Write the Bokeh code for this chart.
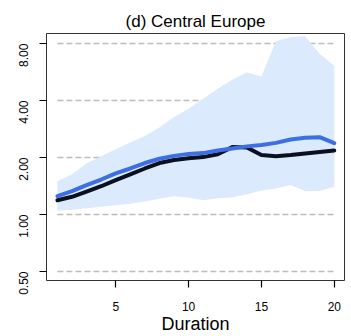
import math
from bokeh.plotting import figure
from bokeh.models import FixedTicker, PrintfTickFormatter
from bokeh.embed import file_html
from bokeh.resources import INLINE

# Durations and series (ratios, log scale)
duration = list(range(1, 21))
band_lower = [1.045, 1.06, 1.08, 1.10, 1.12, 1.14, 1.17, 1.21, 1.25, 1.23,
              1.19, 1.22, 1.23, 1.28, 1.34, 1.37, 1.43, 1.33, 1.33, 1.40]
band_upper = [1.50, 1.63, 1.86, 2.03, 2.21, 2.40, 2.60, 2.88, 3.27, 3.62,
              4.09, 4.62, 5.15, 5.62, 5.35, 8.25, 8.65, 8.75, 7.04, 6.10]
blue_series = [1.25, 1.33, 1.43, 1.53, 1.65, 1.75, 1.87, 1.97, 2.04, 2.09,
               2.11, 2.18, 2.23, 2.29, 2.33, 2.39, 2.49, 2.54, 2.56, 2.38]
black_series = [1.19, 1.24, 1.32, 1.41, 1.52, 1.63, 1.75, 1.87, 1.94, 1.98,
                2.01, 2.08, 2.27, 2.26, 2.06, 2.03, 2.06, 2.10, 2.14, 2.18]
y_ticks = [0.5, 1, 2, 4, 8]
x_ticks = [5, 10, 15, 20]

FONT = "Liberation Sans"

p = figure(width=351, height=336, y_axis_type="log",
           x_range=(0.25, 20.7), y_range=(0.448, 9.04),
           output_backend="svg", toolbar_location=None,
           title="(d) Central Europe",
           min_border_left=46, min_border_right=7,
           min_border_top=33, min_border_bottom=55)

p.title.align = "center"
p.title.text_font = FONT
p.title.text_font_size = "17px"
p.title.text_font_style = "normal"
p.title.text_color = "black"
p.title.standoff = 6

p.xgrid.visible = False
p.ygrid.visible = False
p.outline_line_color = "#333333"
p.outline_line_width = 1

# dashed reference lines spanning the duration range
p.segment(x0=[duration[0]] * len(y_ticks), x1=[duration[-1]] * len(y_ticks),
          y0=y_ticks, y1=y_ticks, line_color="#bdbdbd", line_width=1.5,
          line_dash="6 3")

p.varea(x=duration, y1=band_lower, y2=band_upper, fill_color="#dbeafc")
p.line(duration, black_series, line_color="#0b1020", line_width=4,
       line_join="round", line_cap="round")
p.line(duration, blue_series, line_color="#3d6fe3", line_width=4,
       line_join="round", line_cap="round")

for ax in (p.xaxis[0], p.yaxis[0]):
    ax.axis_line_color = None
    ax.major_tick_line_color = "black"
    ax.major_tick_line_width = 1.2
    ax.major_tick_out = 7
    ax.major_tick_in = 0
    ax.minor_tick_line_color = None
    ax.major_label_text_font = FONT
    ax.major_label_text_font_size = "12px"
    ax.major_label_text_color = "black"

p.xaxis.ticker = FixedTicker(ticks=x_ticks)
p.xaxis.major_label_standoff = 14
p.xaxis.axis_label = "Duration"
p.xaxis.axis_label_text_font = FONT
p.xaxis.axis_label_text_font_size = "18px"
p.xaxis.axis_label_text_font_style = "normal"
p.xaxis.axis_label_text_color = "black"
p.xaxis.axis_label_standoff = 0

p.yaxis.ticker = FixedTicker(ticks=y_ticks)
p.yaxis.formatter = PrintfTickFormatter(format="%.2f")
p.yaxis.major_label_orientation = math.pi / 2
p.yaxis.major_label_standoff = 16

open("out.html", "w").write(file_html(p, INLINE))
